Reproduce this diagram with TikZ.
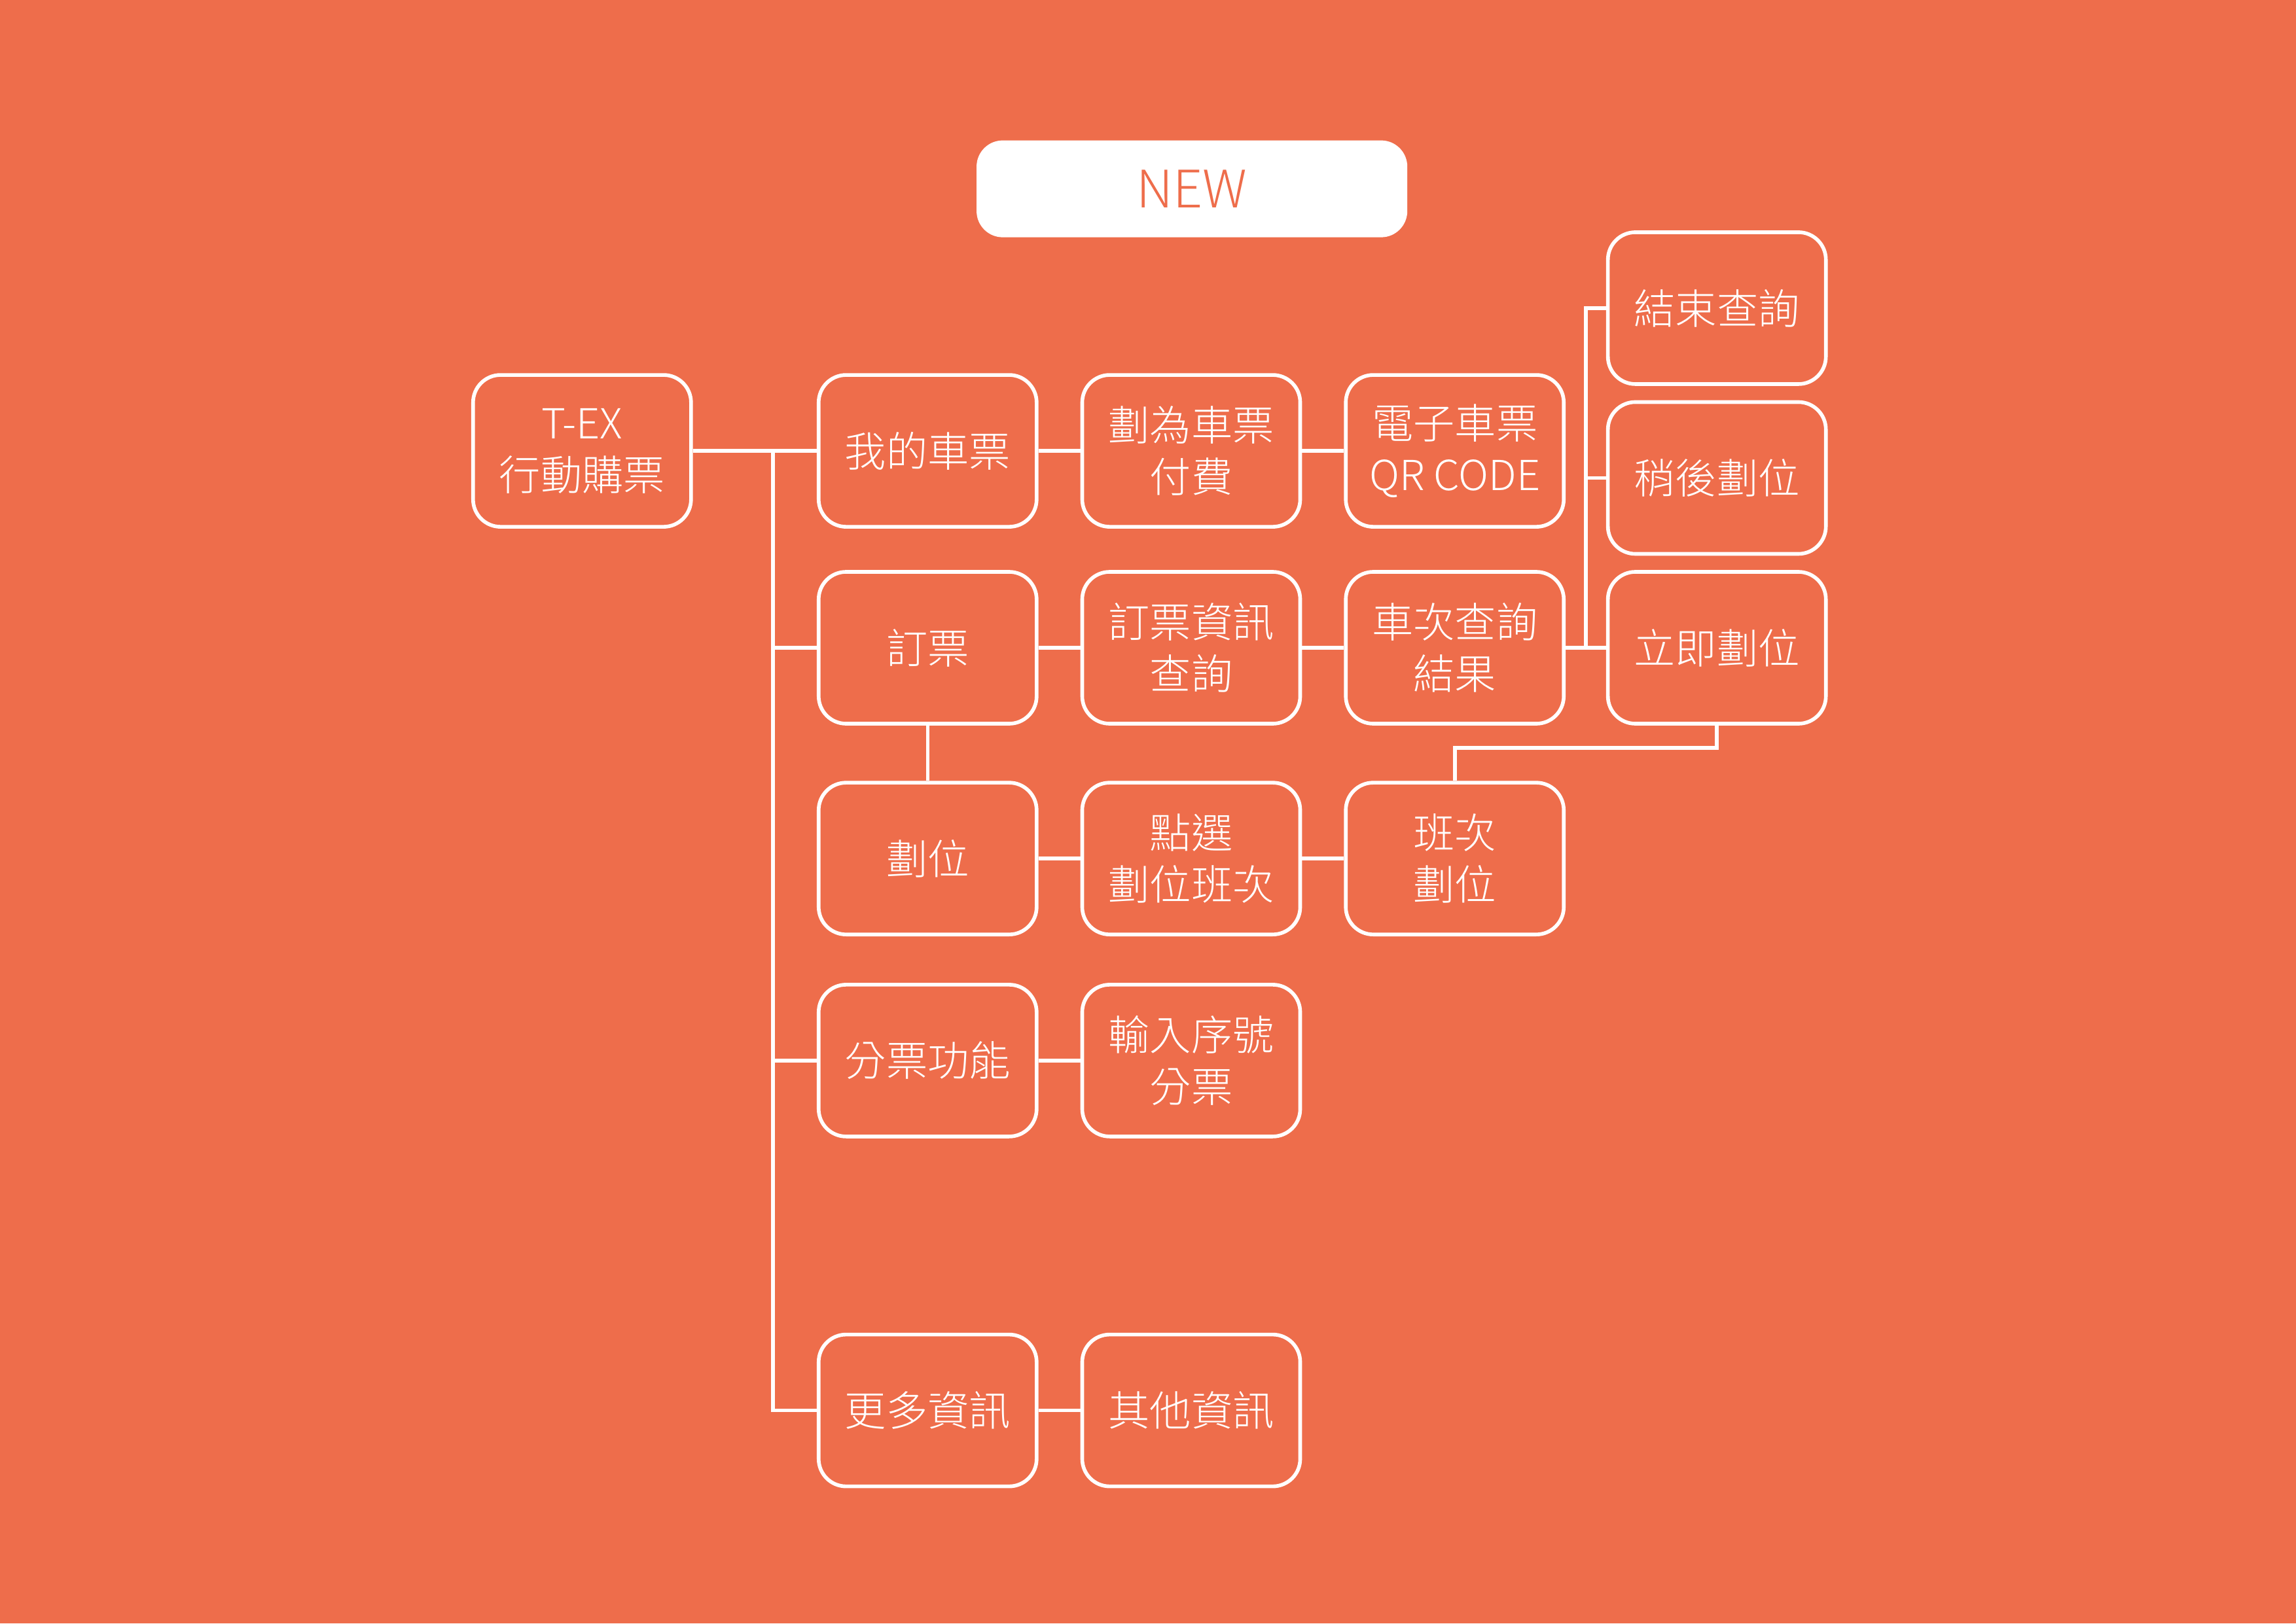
\documentclass[tikz,border=0pt]{standalone}
\usepackage{fontspec}
\setmainfont{Noto Sans CJK TC}[UprightFont={* Light}]
\definecolor{bg}{HTML}{EE6D4B}
\begin{document}
\begin{tikzpicture}[x=0.022372cm,y=-0.022372cm,
  box/.style={draw=white,line width=1.6pt,rounded corners=0.42cm,
    minimum width=3.33cm,minimum height=2.32cm,inner sep=0pt,
    text=white,align=center,font=\fontsize{18}{22.5}\selectfont},
  link/.style={draw=white,line width=1.6pt}]
\fill[bg] (0,0) rectangle (1568,1109);
\useasboundingbox (0,0) rectangle (1568,1109);
\node[fill=white,rounded corners=0.4cm,minimum width=6.58cm,minimum height=1.48cm,
  text=bg,font=\fontsize{22.5}{26}\selectfont] (new) at (814,129) {NEW};
\node[box] (tex) at (397.5,308) {T-EX\\行動購票};
\node[box] (mytk) at (633.5,308) {我的車票};
\node[box] (pay) at (813.5,308) {劃為車票\\付費};
\node[box] (qr) at (993.5,308) {電子車票\\QR CODE};
\node[box] (order) at (633.5,442.5) {訂票};
\node[box] (info) at (813.5,442.5) {訂票資訊\\查詢};
\node[box] (result) at (993.5,442.5) {車次查詢\\結果};
\node[box] (endq) at (1172.5,210.5) {結束查詢};
\node[box] (later) at (1172.5,326.5) {稍後劃位};
\node[box] (now) at (1172.5,442.5) {立即劃位};
\node[box] (seat) at (633.5,586.5) {劃位};
\node[box] (pick) at (813.5,586.5) {點選\\劃位班次};
\node[box] (ban) at (993.5,586.5) {班次\\劃位};
\node[box] (split) at (633.5,724.5) {分票功能};
\node[box] (serial) at (813.5,724.5) {輸入序號\\分票};
\node[box] (more) at (633.5,963.5) {更多資訊};
\node[box] (other) at (813.5,963.5) {其他資訊};
\coordinate (ttop) at (528,308);
\coordinate (tbot) at (528,963.5);
\coordinate (jx) at (1083,442.5);
\coordinate (nb) at (1176,511);
\draw[link] (tex.east) -- (mytk.west);
\draw[link] (ttop) -- (tbot) -- (more.west);
\draw[link] (ttop |- order.west) -- (order.west);
\draw[link] (ttop |- split.west) -- (split.west);
\draw[link] (order.south) -- (seat.north);
\draw[link] (mytk) -- (pay);
\draw[link] (pay) -- (qr);
\draw[link] (order) -- (info);
\draw[link] (info) -- (result);
\draw[link] (seat) -- (pick);
\draw[link] (pick) -- (ban);
\draw[link] (split) -- (serial);
\draw[link] (more) -- (other);
\draw[link] (result.east) -- (jx) -- (now.west);
\draw[link] (jx) -- (jx |- endq.west) -- (endq.west);
\draw[link] (jx |- later.west) -- (later.west);
\draw[link] (now.south) -- (now.south |- nb) -| (ban.north);
\end{tikzpicture}
\end{document}
